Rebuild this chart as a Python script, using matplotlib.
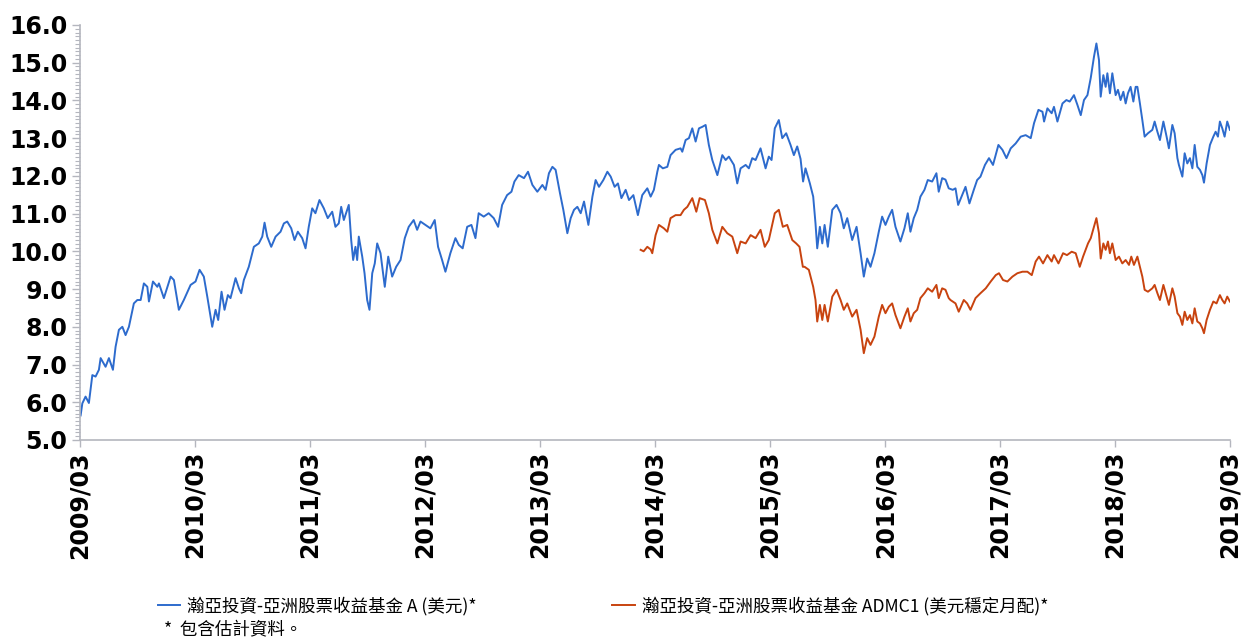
from datetime import datetime, timedelta
import matplotlib
matplotlib.use('Agg')
from matplotlib import pyplot as plt
import matplotlib.dates as mdates
from matplotlib.ticker import MultipleLocator, FormatStrFormatter

# dates are decimal years
blue_t = [2009.167, 2009.182, 2009.210, 2009.239, 2009.269, 2009.297, 2009.326, 2009.341, 2009.384, 2009.413,
          2009.448, 2009.471, 2009.500, 2009.530, 2009.558, 2009.587, 2009.630, 2009.660, 2009.689, 2009.717,
          2009.747, 2009.761, 2009.796, 2009.834, 2009.848, 2009.891, 2009.950, 2009.978, 2010.022, 2010.065,
          2010.124, 2010.167, 2010.202, 2010.239, 2010.269, 2010.312, 2010.341, 2010.364, 2010.393, 2010.419,
          2010.448, 2010.471, 2010.515, 2010.544, 2010.564, 2010.587, 2010.630, 2010.674, 2010.717, 2010.747,
          2010.767, 2010.790, 2010.825, 2010.863, 2010.906, 2010.935, 2010.964, 2010.999, 2011.028, 2011.057,
          2011.095, 2011.124, 2011.152, 2011.182, 2011.210, 2011.245, 2011.283, 2011.317, 2011.356, 2011.384,
          2011.413, 2011.434, 2011.457, 2011.500, 2011.521, 2011.538, 2011.558, 2011.573, 2011.587, 2011.617,
          2011.637, 2011.660, 2011.680, 2011.704, 2011.726, 2011.747, 2011.776, 2011.813, 2011.843, 2011.877,
          2011.912, 2011.950, 2011.987, 2012.022, 2012.065, 2012.095, 2012.124, 2012.167, 2012.210, 2012.248,
          2012.277, 2012.312, 2012.341, 2012.384, 2012.428, 2012.457, 2012.491, 2012.530, 2012.567, 2012.602,
          2012.630, 2012.674, 2012.717, 2012.761, 2012.799, 2012.834, 2012.877, 2012.915, 2012.941, 2012.978,
          2013.022, 2013.057, 2013.095, 2013.138, 2013.182, 2013.210, 2013.239, 2013.269, 2013.297, 2013.335,
          2013.364, 2013.399, 2013.428, 2013.457, 2013.486, 2013.515, 2013.544, 2013.582, 2013.617, 2013.645,
          2013.674, 2013.712, 2013.747, 2013.776, 2013.810, 2013.839, 2013.869, 2013.906, 2013.935, 2013.973,
          2014.013, 2014.051, 2014.095, 2014.124, 2014.152, 2014.182, 2014.196, 2014.230, 2014.269, 2014.297,
          2014.341, 2014.384, 2014.399, 2014.428, 2014.457, 2014.486, 2014.515, 2014.544, 2014.573, 2014.602,
          2014.630, 2014.660, 2014.704, 2014.747, 2014.776, 2014.804, 2014.848, 2014.877, 2014.906, 2014.950,
          2014.978, 2015.008, 2015.037, 2015.080, 2015.109, 2015.124, 2015.152, 2015.176, 2015.204, 2015.239,
          2015.269, 2015.303, 2015.341, 2015.370, 2015.399, 2015.428, 2015.450, 2015.471, 2015.509, 2015.538,
          2015.558, 2015.573, 2015.596, 2015.617, 2015.637, 2015.665, 2015.704, 2015.741, 2015.776, 2015.804,
          2015.834, 2015.877, 2015.915, 2015.950, 2015.978, 2016.008, 2016.037, 2016.071, 2016.109, 2016.138,
          2016.167, 2016.196, 2016.225, 2016.254, 2016.297, 2016.332, 2016.361, 2016.384, 2016.413, 2016.443,
          2016.471, 2016.506, 2016.535, 2016.573, 2016.610, 2016.630, 2016.660, 2016.689, 2016.717, 2016.752,
          2016.776, 2016.799, 2016.828, 2016.863, 2016.897, 2016.935, 2016.964, 2016.993, 2017.030, 2017.065,
          2017.100, 2017.147, 2017.182, 2017.217, 2017.254, 2017.297, 2017.341, 2017.384, 2017.428, 2017.457,
          2017.495, 2017.530, 2017.544, 2017.573, 2017.610, 2017.630, 2017.660, 2017.704, 2017.738, 2017.767,
          2017.804, 2017.834, 2017.863, 2017.891, 2017.921, 2017.950, 2017.978, 2017.999, 2018.022, 2018.037,
          2018.060, 2018.080, 2018.095, 2018.117, 2018.138, 2018.167, 2018.187, 2018.210, 2018.234, 2018.254,
          2018.274, 2018.297, 2018.321, 2018.341, 2018.356, 2018.378, 2018.399, 2018.419, 2018.448, 2018.486,
          2018.506, 2018.530, 2018.552, 2018.582, 2018.610, 2018.630, 2018.660, 2018.680, 2018.704, 2018.717,
          2018.747, 2018.767, 2018.790, 2018.813, 2018.834, 2018.854, 2018.877, 2018.900, 2018.921, 2018.935,
          2018.958, 2018.987, 2019.017, 2019.037, 2019.057, 2019.074, 2019.095, 2019.115, 2019.138, 2019.161]
blue_v = [5.65, 5.97, 6.15, 5.98, 6.72, 6.68, 6.86, 7.17, 6.94, 7.17,
          6.86, 7.47, 7.92, 8.00, 7.78, 8.00, 8.62, 8.71, 8.71, 9.15,
          9.06, 8.67, 9.20, 9.06, 9.15, 8.76, 9.33, 9.24, 8.45, 8.71,
          9.11, 9.20, 9.51, 9.33, 8.80, 8.00, 8.45, 8.18, 8.93, 8.45,
          8.84, 8.76, 9.29, 9.02, 8.89, 9.24, 9.59, 10.12, 10.21, 10.39,
          10.76, 10.39, 10.12, 10.39, 10.52, 10.74, 10.79, 10.61, 10.30, 10.52,
          10.35, 10.08, 10.65, 11.14, 11.01, 11.36, 11.14, 10.88, 11.05, 10.65,
          10.74, 11.18, 10.83, 11.23, 10.30, 9.77, 10.12, 9.77, 10.39, 9.86,
          9.42, 8.71, 8.45, 9.42, 9.68, 10.21, 9.95, 9.06, 9.86, 9.33,
          9.59, 9.77, 10.35, 10.65, 10.83, 10.57, 10.79, 10.70, 10.61, 10.83,
          10.12, 9.77, 9.46, 9.95, 10.35, 10.17, 10.08, 10.65, 10.70, 10.35,
          11.01, 10.92, 11.01, 10.88, 10.65, 11.23, 11.49, 11.58, 11.85, 12.02,
          11.94, 12.11, 11.76, 11.58, 11.76, 11.63, 12.07, 12.24, 12.16, 11.54,
          11.10, 10.48, 10.88, 11.10, 11.18, 11.01, 11.32, 10.70, 11.45, 11.89,
          11.71, 11.89, 12.11, 11.98, 11.71, 11.80, 11.41, 11.63, 11.36, 11.49,
          10.96, 11.49, 11.67, 11.45, 11.63, 12.11, 12.29, 12.20, 12.24, 12.55,
          12.69, 12.73, 12.64, 12.95, 13.00, 13.26, 12.91, 13.26, 13.30, 13.35,
          12.82, 12.42, 12.02, 12.55, 12.42, 12.51, 12.29, 11.80, 12.20, 12.29,
          12.20, 12.47, 12.42, 12.73, 12.38, 12.20, 12.51, 12.42, 13.26, 13.48,
          13.00, 13.13, 12.82, 12.55, 12.78, 12.45, 11.85, 12.20, 11.80, 11.45,
          10.74, 10.08, 10.65, 10.21, 10.70, 10.12, 11.10, 11.23, 11.01, 10.61,
          10.88, 10.30, 10.65, 9.95, 9.33, 9.81, 9.59, 9.95, 10.52, 10.92,
          10.70, 10.92, 11.10, 10.65, 10.26, 10.61, 11.01, 10.52, 10.88, 11.10,
          11.45, 11.63, 11.89, 11.85, 12.07, 11.58, 11.94, 11.90, 11.67, 11.63,
          11.67, 11.23, 11.45, 11.71, 11.27, 11.63, 11.89, 11.98, 12.29, 12.47,
          12.29, 12.82, 12.69, 12.47, 12.73, 12.86, 13.04, 13.08, 13.00, 13.40,
          13.75, 13.70, 13.44, 13.79, 13.66, 13.83, 13.44, 13.92, 14.01, 13.97,
          14.14, 13.88, 13.61, 14.01, 14.14, 14.60, 15.16, 15.51, 15.07, 14.10,
          14.67, 14.36, 14.72, 14.19, 14.72, 14.14, 14.28, 14.01, 14.23, 13.92,
          14.19, 14.36, 13.97, 14.36, 14.36, 13.92, 13.48, 13.04, 13.13, 13.22,
          13.44, 13.17, 12.95, 13.44, 13.04, 12.73, 13.35, 13.13, 12.47, 12.29,
          11.98, 12.60, 12.33, 12.47, 12.20, 12.82, 12.24, 12.16, 12.02, 11.82,
          12.33, 12.82, 13.04, 13.17, 13.04, 13.44, 13.26, 13.04, 13.44, 13.22]

orange_t = [2014.037, 2014.063, 2014.095, 2014.124, 2014.138, 2014.167, 2014.196, 2014.239, 2014.269, 2014.297,
            2014.341, 2014.384, 2014.413, 2014.443, 2014.486, 2014.521, 2014.550, 2014.596, 2014.630, 2014.660,
            2014.704, 2014.747, 2014.790, 2014.834, 2014.877, 2014.906, 2014.950, 2014.993, 2015.037, 2015.080,
            2015.117, 2015.152, 2015.204, 2015.239, 2015.274, 2015.312, 2015.356, 2015.390, 2015.419, 2015.448,
            2015.463, 2015.500, 2015.538, 2015.558, 2015.573, 2015.596, 2015.617, 2015.637, 2015.665, 2015.704,
            2015.741, 2015.776, 2015.804, 2015.834, 2015.877, 2015.915, 2015.950, 2015.978, 2016.008, 2016.037,
            2016.071, 2016.109, 2016.138, 2016.167, 2016.196, 2016.225, 2016.254, 2016.297, 2016.332, 2016.361,
            2016.384, 2016.413, 2016.443, 2016.471, 2016.506, 2016.535, 2016.573, 2016.610, 2016.630, 2016.660,
            2016.689, 2016.717, 2016.732, 2016.776, 2016.804, 2016.848, 2016.877, 2016.906, 2016.950, 2016.993,
            2017.037, 2017.080, 2017.124, 2017.152, 2017.187, 2017.225, 2017.269, 2017.312, 2017.356, 2017.399,
            2017.437, 2017.471, 2017.500, 2017.535, 2017.573, 2017.610, 2017.630, 2017.669, 2017.709, 2017.743,
            2017.784, 2017.819, 2017.854, 2017.883, 2017.926, 2017.950, 2017.978, 2017.999, 2018.022, 2018.037,
            2018.060, 2018.080, 2018.100, 2018.117, 2018.138, 2018.167, 2018.196, 2018.225, 2018.254, 2018.283,
            2018.303, 2018.326, 2018.356, 2018.378, 2018.399, 2018.419, 2018.448, 2018.486, 2018.506, 2018.530,
            2018.552, 2018.582, 2018.610, 2018.630, 2018.660, 2018.680, 2018.704, 2018.726, 2018.747, 2018.767,
            2018.790, 2018.813, 2018.834, 2018.854, 2018.877, 2018.900, 2018.921, 2018.935, 2018.958, 2018.987,
            2019.017, 2019.045, 2019.074, 2019.095, 2019.115, 2019.138, 2019.161]
orange_v = [10.04, 10.00, 10.12, 10.05, 9.95, 10.43, 10.70, 10.61, 10.52, 10.88,
            10.96, 10.96, 11.10, 11.18, 11.41, 11.05, 11.41, 11.36, 11.01, 10.57,
            10.21, 10.65, 10.48, 10.39, 9.95, 10.26, 10.21, 10.43, 10.35, 10.57,
            10.12, 10.30, 11.01, 11.10, 10.65, 10.70, 10.30, 10.21, 10.12, 9.59,
            9.59, 9.51, 9.06, 8.71, 8.14, 8.58, 8.18, 8.58, 8.14, 8.80,
            8.98, 8.71, 8.45, 8.62, 8.27, 8.45, 7.92, 7.30, 7.70, 7.52,
            7.74, 8.27, 8.58, 8.36, 8.53, 8.62, 8.31, 7.96, 8.27, 8.49,
            8.14, 8.36, 8.45, 8.76, 8.89, 9.02, 8.93, 9.11, 8.76, 9.02,
            8.98, 8.76, 8.71, 8.62, 8.40, 8.71, 8.62, 8.45, 8.76, 8.89,
            9.02, 9.20, 9.37, 9.42, 9.24, 9.20, 9.33, 9.42, 9.46, 9.46,
            9.37, 9.73, 9.86, 9.68, 9.90, 9.73, 9.90, 9.68, 9.95, 9.90,
            9.99, 9.95, 9.59, 9.86, 10.21, 10.35, 10.65, 10.88, 10.48, 9.81,
            10.21, 10.04, 10.26, 9.95, 10.21, 9.77, 9.86, 9.68, 9.77, 9.64,
            9.86, 9.64, 9.86, 9.59, 9.33, 8.98, 8.93, 9.02, 9.11, 8.89,
            8.71, 9.11, 8.80, 8.58, 9.02, 8.80, 8.36, 8.27, 8.05, 8.40,
            8.18, 8.31, 8.09, 8.49, 8.14, 8.09, 7.96, 7.83, 8.18, 8.45,
            8.67, 8.62, 8.84, 8.71, 8.62, 8.80, 8.67]

series_names = ['瀚亞投資-亞洲股票收益基金 A (美元)*', '瀚亞投資-亞洲股票收益基金 ADMC1 (美元穩定月配)*']
footnote = '*  包含估計資料。'
tick_years = list(range(2009, 2020))

BLUE = '#2d6bcd'
ORANGE = '#c8430f'
GREY = '#b4b6be'
CJK = ['Noto Sans CJK TC', 'DejaVu Sans']


def to_date(t):
    y = int(t)
    return datetime(y, 1, 1) + timedelta(days=(t - y) * 365.25)


plt.rcParams['font.family'] = ['DejaVu Sans']

fig = plt.figure(figsize=(12.42, 6.37), dpi=100)
ax = fig.add_axes([0.0644, 0.3093, 0.9259, 0.6515])

l1, = ax.plot([to_date(t) for t in blue_t], blue_v, color=BLUE, lw=1.4)
l2, = ax.plot([to_date(t) for t in orange_t], orange_v, color=ORANGE, lw=1.4)

ax.set_ylim(5, 16)
ax.set_xlim(datetime(2009, 3, 1), datetime(2019, 3, 1))
ax.yaxis.set_major_locator(MultipleLocator(1))
ax.yaxis.set_minor_locator(MultipleLocator(0.1))
ax.yaxis.set_major_formatter(FormatStrFormatter('%.1f'))
ax.set_xticks([datetime(y, 3, 1) for y in tick_years])
ax.xaxis.set_major_formatter(mdates.DateFormatter('%Y/%m'))

for s in ['top', 'right']:
    ax.spines[s].set_visible(False)
for s in ['left', 'bottom']:
    ax.spines[s].set_color(GREY)
    ax.spines[s].set_linewidth(1.2)

ax.tick_params(axis='y', which='major', length=6, width=1, color=GREY, pad=3)
ax.tick_params(axis='y', which='minor', length=3.5, width=0.8, color=GREY)
ax.tick_params(axis='x', which='major', length=5, width=1, color=GREY, pad=3)
for lab in ax.get_yticklabels():
    lab.set_fontsize(17)
    lab.set_fontweight('bold')
for lab in ax.get_xticklabels():
    lab.set_fontsize(17)
    lab.set_fontweight('bold')
    lab.set_rotation(90)

leg_kw = dict(loc='center left', frameon=False, handlelength=1.3, handletextpad=0.4,
              borderpad=0, borderaxespad=0, prop={'family': CJK, 'size': 12.6})
leg1 = fig.legend(handles=[l1], labels=[series_names[0]], bbox_to_anchor=(0.127, 0.049), **leg_kw)
leg2 = fig.legend(handles=[l2], labels=[series_names[1]], bbox_to_anchor=(0.4928, 0.049), **leg_kw)
fig.text(0.132, 0.011, footnote, family=CJK, fontsize=12.6, va='center', ha='left')

fig.savefig('out.png', dpi=100)
